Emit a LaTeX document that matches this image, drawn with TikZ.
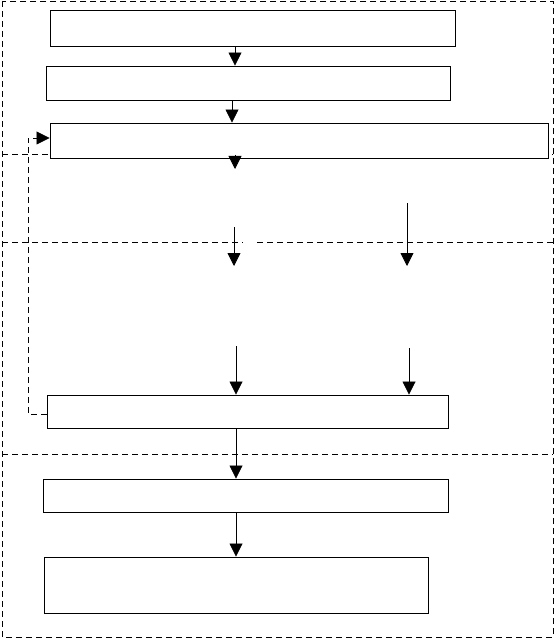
\documentclass[tikz,border=0pt]{standalone}
\usetikzlibrary{arrows.meta}
\begin{document}
\begin{tikzpicture}[x=1pt,y=-1pt,
  boxx/.style={draw,line width=0.9pt,fill=white,inner sep=0pt},
  frame/.style={line width=0.8pt,dash pattern=on 6pt off 4pt},
  arr/.style={line width=0.8pt,-{Triangle[width=13pt,length=13pt]}},
  dfb/.style={line width=0.8pt,dash pattern=on 6pt off 4pt,-{Triangle[width=13pt,length=13pt]}}]
\useasboundingbox (0,0) rectangle (556,639);
% dashed frame and section lines
\draw[frame] (2,1) rectangle (553,637);
\draw[frame] (2,154) -- (553,154);
\draw[frame] (2,242) -- (243,242);
\draw[frame] (257,242) -- (553,242);
\draw[frame] (2,454) -- (553,454);
% boxes
\node[boxx,minimum width=405pt,minimum height=36pt] (b1) at (252.5,28) {};
\node[boxx,minimum width=404pt,minimum height=34pt] (b2) at (248,83) {};
\node[boxx,minimum width=498pt,minimum height=35pt] (b3) at (299,140.5) {};
\node[boxx,minimum width=401pt,minimum height=33pt] (b5) at (247.5,411.5) {};
\node[boxx,minimum width=405pt,minimum height=33pt] (b6) at (245.5,495.5) {};
\node[boxx,minimum width=384pt,minimum height=56pt] (b7) at (236,585) {};
% free arrow ends
\coordinate (a3s) at (235,156);
\coordinate (a3e) at (235,169);
\coordinate (a4s) at (234,227);
\coordinate (a4e) at (234,266);
\coordinate (a5s) at (407,203);
\coordinate (a5e) at (407,266);
\coordinate (a6s) at (236,346);
\coordinate (a7s) at (409,348);
\coordinate (fb) at (28,138);
% arrows
\draw[arr] (b1.south -| 235,0) -- (b2.north -| 235,0);
\draw[arr] (b2.south -| 232,0) -- (b3.north -| 232,0);
\draw[arr,shorten <=-1pt] (a3s) -- (a3e);
\draw[arr] (a4s) -- (a4e);
\draw[arr] (a5s) -- (a5e);
\draw[arr] (a6s) -- (b5.north -| a6s);
\draw[arr] (a7s) -- (b5.north -| a7s);
\draw[arr] (b5.south -| 236,0) -- (b6.north -| 236,0);
\draw[arr] (b6.south -| 236,0) -- (b7.north -| 236,0);
% feedback
\draw[dfb] (b5.west |- 0,414) -| (fb) -- (b3.west |- fb);
\end{tikzpicture}
\end{document}
